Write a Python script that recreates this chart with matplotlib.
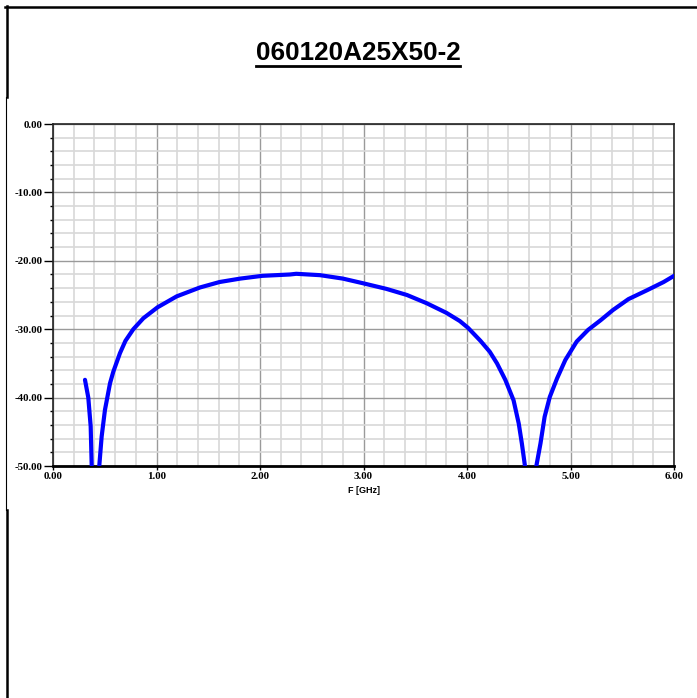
import numpy as np
import matplotlib
matplotlib.use("Agg")
import matplotlib.pyplot as plt
from matplotlib.lines import Line2D
from matplotlib.ticker import MultipleLocator, FormatStrFormatter

title = "060120A25X50-2"
xlabel = "F [GHz]"

# Reflection curve (frequency in GHz, level in dB); dips go below the -50 dB floor
freq = [0.309, 0.341, 0.364, 0.374, 0.41, 0.447, 0.47, 0.502, 0.551, 0.583, 0.621,
        0.647, 0.70, 0.776, 0.873, 1.01, 1.195, 1.42, 1.61, 1.81, 2.02, 2.29, 2.35,
        2.58, 2.80, 3.00, 3.22, 3.42, 3.61, 3.80, 3.93, 4.01, 4.13, 4.22, 4.29,
        4.37, 4.45, 4.50, 4.53, 4.56, 4.615, 4.67, 4.71, 4.75, 4.80, 4.87, 4.95,
        5.06, 5.17, 5.29, 5.41, 5.56, 5.74, 5.90, 6.00]
level = [-37.4, -40.0, -44.2, -50.0, -60.0, -50.0, -45.7, -41.8, -37.9, -36.2, -34.6,
         -33.5, -31.7, -30.0, -28.4, -26.8, -25.2, -23.9, -23.1, -22.6, -22.2, -22.0, -21.9,
         -22.1, -22.6, -23.3, -24.1, -25.0, -26.2, -27.6, -28.8, -29.8, -31.7, -33.3, -35.0,
         -37.4, -40.4, -43.8, -46.7, -50.0, -60.0, -50.0, -46.7, -42.8, -39.9, -37.2, -34.5,
         -31.8, -30.1, -28.7, -27.2, -25.6, -24.3, -23.1, -22.2]

W, H = 697, 698
fig = plt.figure(figsize=(W / 100, H / 100), dpi=100)
fig.patch.set_facecolor("white")

ax = fig.add_axes([53 / W, 1 - 466 / H, (674 - 53) / W, (466 - 124) / H])
ax.plot(freq, level, color="#0000ff", lw=3.0, solid_capstyle="round",
        solid_joinstyle="round", zorder=3)
ax.set_xlim(0, 6)
ax.set_ylim(-50, 0)

ax.xaxis.set_major_locator(MultipleLocator(1))
ax.xaxis.set_minor_locator(MultipleLocator(0.2))
ax.yaxis.set_major_locator(MultipleLocator(10))
ax.yaxis.set_minor_locator(MultipleLocator(2))
ax.xaxis.set_major_formatter(FormatStrFormatter("%.2f"))
ax.yaxis.set_major_formatter(FormatStrFormatter("%.2f"))

ax.grid(which="minor", color="#d8d8d8", lw=1.2, zorder=0)
ax.grid(which="major", color="#9a9a9a", lw=1.0, zorder=1)
ax.set_axisbelow(True)

for s in ax.spines.values():
    s.set_color("#222222")
    s.set_linewidth(1.2)
ax.spines["bottom"].set_linewidth(2.0)
ax.spines["bottom"].set_color("black")

ax.tick_params(axis="y", which="major", length=6.5, width=1, direction="out", pad=1)
ax.tick_params(axis="y", which="minor", length=2, width=1, direction="out")
ax.tick_params(axis="x", which="major", length=3, width=1, direction="out", pad=1)
ax.tick_params(axis="x", which="minor", length=0)
for lab in ax.get_xticklabels() + ax.get_yticklabels():
    lab.set_fontfamily("Liberation Serif")
    lab.set_fontweight("bold")
    lab.set_fontsize(7.8)
ax.set_xlabel(xlabel, fontfamily="Liberation Sans", fontweight="bold", fontsize=6.5, labelpad=4)

# title with underline
t = fig.text(358 / W, 1 - 53 / H, title, ha="center", va="center",
             fontfamily="Liberation Sans", fontweight="bold", fontsize=18.8)
fig.canvas.draw()
bb = t.get_window_extent(renderer=fig.canvas.get_renderer())
uy = bb.y0 - 1.0
fig.add_artist(Line2D([bb.x0 / W, bb.x1 / W], [uy / H, uy / H], transform=fig.transFigure,
                      color="black", lw=2.0))

# outer frame (top and left)
fig.add_artist(Line2D([5 / W, 1.0], [1 - 6.5 / H, 1 - 6.5 / H], transform=fig.transFigure, color="black", lw=1.8))
fig.add_artist(Line2D([6.5 / W, 6.5 / W], [1 - 6 / H, 1 - 97 / H], transform=fig.transFigure, color="black", lw=1.8))
fig.add_artist(Line2D([6.0 / W, 6.0 / W], [1 - 97 / H, 1 - 510 / H], transform=fig.transFigure, color="black", lw=0.8))
fig.add_artist(Line2D([6.5 / W, 6.5 / W], [1 - 510 / H, 0], transform=fig.transFigure, color="black", lw=1.8))

fig.savefig("out.png", dpi=100, facecolor="white")
